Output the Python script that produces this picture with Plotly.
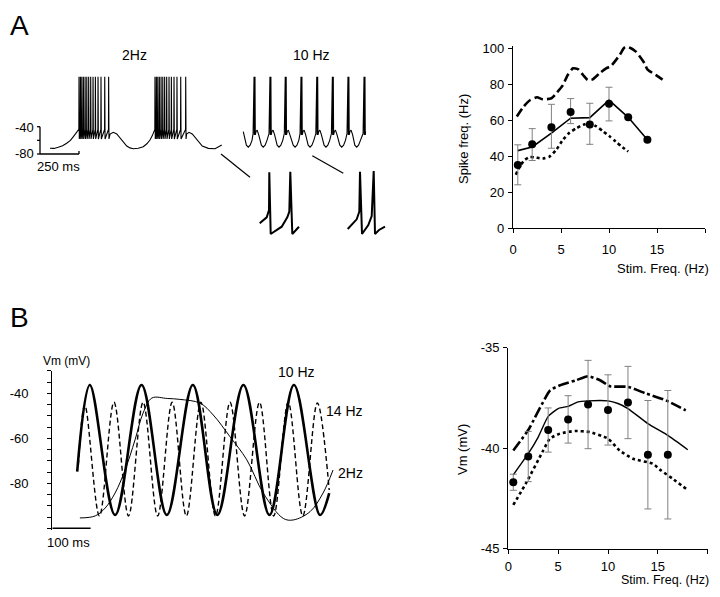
import plotly.graph_objects as go

FONT = "Liberation Sans, Arial, Helvetica, sans-serif"
# the page body keeps its default 8px margin; the figure fills the rest of the 720x597 window
OFF = 8
FIG_W, FIG_H = 720 - 2 * OFF, 597 - 2 * OFF

# ---------------- Panel A right: spike frequency vs stimulation frequency ----------------
stim_a = [0.5, 2, 4, 6, 8, 10, 12, 14]
spike_mean = [35, 46.5, 56, 64.5, 57.5, 69, 61.5, 49]
spike_err_hi = [11.2, 8.7, 12.7, 7.4, 11.8, 9.2, 0, 0]
spike_err_lo = [11.0, 9.0, 11.7, 6.5, 11.0, 9.5, 0, 0]
model_spike = [43, 45, 52.7, 61, 61.3, 71, 61.5, 49]
upper_spike_x = [0.4, 1.1, 1.8, 2.5, 3.1, 4.0, 4.5, 5.2, 5.7, 6.25, 6.8, 7.3, 7.8, 8.3, 9.0,
                 9.7, 10.2, 11.1, 11.6, 12.0, 12.8, 13.7, 14.0, 14.9, 15.9]
upper_spike_y = [61.9, 67.4, 71.1, 72.6, 71.5, 72.1, 74.8, 79.4, 85, 88.7, 88.1, 85, 82.2, 82.6, 85.9,
                 88.7, 90, 96, 100.2, 100.6, 98, 91.5, 88.1, 84.9, 81.3]
lower_spike_x = [0.3, 0.7, 1.25, 1.75, 2.3, 3.1, 3.8, 4.5, 5.2, 5.9, 6.6, 7.3, 8.0, 8.7, 9.4,
                 10.0, 10.7, 11.4, 12.0]
lower_spike_y = [29.6, 34.2, 37.9, 39.4, 39.2, 38.6, 39.7, 43.4, 49, 53, 55.4, 57.3, 58.2, 56.4, 53.6,
                 51.2, 48, 44.9, 42.5]

# ---------------- Panel B right: membrane potential vs stimulation frequency ----------------
stim_b = [0.5, 2, 4, 6, 8, 10, 12, 14, 16]
vm_mean = [-41.7, -40.42, -39.1, -38.57, -37.83, -38.1, -37.73, -40.33, -40.33]
vm_err = [0.4, 1.25, 1.1, 1.18, 2.2, 1.75, 1.8, 2.7, 3.2]
model_vm_x = [0.5, 2, 3, 4, 5, 6, 7, 8, 10, 11, 12, 14, 16, 18]
model_vm_y = [-41.33, -40.28, -39.45, -38.42, -38.03, -37.92, -37.7, -37.65, -37.65, -37.78,
              -38.03, -38.78, -39.37, -40.08]
upper_vm_x = [0.5, 2, 4.2, 5.2, 6.8, 8, 9.2, 10.2, 12, 13.8, 15.8, 17.8]
upper_vm_y = [-40.12, -39.1, -37.12, -36.87, -36.62, -36.42, -36.62, -36.92, -36.95, -37.28,
              -37.62, -38.12]
lower_vm_x = [0.5, 1.83, 3.5, 4.17, 5.17, 6.67, 8.17, 10, 11.17, 12.5, 14.5, 15.33, 16.5, 17.83]
lower_vm_y = [-42.83, -41.7, -40.12, -39.53, -39.28, -39.15, -39.2, -39.53, -40.12, -40.53,
              -40.78, -41.12, -41.53, -42.03]

# ---------------- Panel A left: voltage traces (ms, mV) ----------------
a2_pre_t = [64, 90, 117, 145, 171, 195, 214, 230, 242]
a2_pre_v = [-71.6, -71.8, -70.2, -68.0, -64.3, -60.0, -54.6, -49.5, -44.7]
a2_burst1 = [250, 259, 268, 278, 289, 300, 312, 325, 340, 355, 372, 391, 415, 440]
a2_mid_t = [449, 470, 492, 524, 556, 577, 598, 630, 662, 685, 705, 720, 731]
a2_mid_v = [-50.7, -48.2, -50.7, -59.5, -68.3, -71.0, -72.2, -71.5, -69.3, -65.0, -59.5, -53.0, -47.3]
a2_burst2 = [737, 746, 755, 765, 776, 787, 799, 812, 827, 842, 859, 878, 902, 934]
a2_post_t = [940, 955, 976, 1008, 1040, 1079, 1122, 1165]
a2_post_v = [-50.7, -48.2, -50.7, -59.5, -68.3, -71.7, -72.2, -66.8]
SPIKE_PEAK, SPIKE_TROUGH, SPIKE_THRESH = 33, -58, -44

a10_start = (1303, -47.3)
a10_troughs = [1335, 1431, 1532, 1635, 1731, 1833, 1934, 2030]
a10_spikes = [1372, 1474, 1572, 1673, 1774, 1874, 1974, 2077]
A10_TROUGH_V, A10_HUMP_V = -70, -45

# magnified insets (expanded time base)
inset1_t = [4.85, 8.35, 9.5, 9.65, 10.35, 15.85, 18.65, 19.65, 20.15, 21.15, 24.5]
inset1_v = [-48.4, -38.9, -27.3, 32.5, -65.4, -53.8, -38.9, -30, 33.5, -65.4, -53.8]
inset2_t = [48.85, 53.35, 54.65, 55, 56, 59.15, 60.85, 61.85, 62.5, 64.5, 67.5]
inset2_v = [-57.5, -42.1, -30, 33.5, -65.4, -51.1, -36.8, 34.6, -65.4, -59, -53.8]

# ---------------- Panel B left: subthreshold oscillations (ms, mV) ----------------
b10_t = [65, 98, 164, 233, 299, 367, 431, 499, 567, 631, 699, 723]
b10_v = [-74.8, -36.3, -94.1, -36.3, -94.1, -36.3, -94.1, -36.3, -94.1, -36.3, -94.1, -84.4]
b14_t = [68, 85, 123, 161, 199, 237, 275, 313, 350, 388, 426, 464, 502, 541, 578, 616, 654, 692, 723]
b14_v = [-71.9, -45.2, -94.5, -44, -94.5, -44, -94.5, -44, -94.5, -44, -94.5, -44, -94.5, -44,
         -94.5, -44, -94.5, -44.3, -83]
b2_t = [72, 112, 138, 164, 190, 216, 237, 260, 300, 333, 386, 420, 464, 508, 551, 603, 629, 673, 707, 733]
b2_v = [-95.4, -94.5, -91, -84.3, -74.1, -60.7, -48.8, -42.1, -42.3, -42.7, -44.4, -49.6, -59.3,
        -69.6, -84.4, -95.6, -96.3, -92.6, -84.3, -74.1]

# scale bars
scale_a_mv = [-80, -40]
scale_a_ms = 250
scale_b_ms = 100


def spikes(times):
    t, v = [], []
    for s in times:
        t += [s - 1, s, s + 2]
        v += [SPIKE_THRESH, SPIKE_PEAK, SPIKE_TROUGH]
    return t, v


b1t, b1v = spikes(a2_burst1)
b2t_, b2v_ = spikes(a2_burst2)
a2_t = a2_pre_t + b1t + a2_mid_t + b2t_ + a2_post_t
a2_v = a2_pre_v + b1v + a2_mid_v + b2v_ + a2_post_v

a10_t, a10_v = [a10_start[0]], [a10_start[1]]
for i, (tr, s) in enumerate(zip(a10_troughs, a10_spikes)):
    a10_t += [tr - 12, tr, tr + 12, tr + 24, s - 6]
    a10_v += [-67, A10_TROUGH_V, -67, -60, -50]
    a10_t += [s, s + 2, s + 5, s + 6, s + 8]
    a10_v += [SPIKE_PEAK, -52, -46, SPIKE_PEAK, -52]
    if i < len(a10_spikes) - 1:
        a10_t += [s + 13, s + 20, s + 30]
        a10_v += [-47, A10_HUMP_V, -52]
    else:
        a10_t += [s + 10]
        a10_v += [-47]

fig = go.Figure()

# ----- A right
fig.add_trace(go.Scatter(x=upper_spike_x, y=upper_spike_y, mode="lines", xaxis="x", yaxis="y",
                         line=dict(color="black", width=2.6, dash="9px,4px", shape="spline", smoothing=0.6)))
fig.add_trace(go.Scatter(x=lower_spike_x, y=lower_spike_y, mode="lines", xaxis="x", yaxis="y",
                         line=dict(color="black", width=2.6, dash="3px,3px", shape="spline", smoothing=0.6)))
fig.add_trace(go.Scatter(x=stim_a, y=model_spike, mode="lines", xaxis="x", yaxis="y",
                         line=dict(color="black", width=1.6)))
fig.add_trace(go.Scatter(x=stim_a, y=spike_mean, mode="markers", xaxis="x", yaxis="y",
                         marker=dict(color="black", size=8),
                         error_y=dict(type="data", symmetric=False, array=spike_err_hi,
                                      arrayminus=spike_err_lo, color="#808080", thickness=1, width=3.5)))

# ----- B right
fig.add_trace(go.Scatter(x=upper_vm_x, y=upper_vm_y, mode="lines", xaxis="x2", yaxis="y2",
                         line=dict(color="black", width=2.6, dash="11px,3px,3px,3px", shape="spline", smoothing=0.5)))
fig.add_trace(go.Scatter(x=lower_vm_x, y=lower_vm_y, mode="lines", xaxis="x2", yaxis="y2",
                         line=dict(color="black", width=2.6, dash="3px,3px", shape="spline", smoothing=0.5)))
fig.add_trace(go.Scatter(x=model_vm_x, y=model_vm_y, mode="lines", xaxis="x2", yaxis="y2",
                         line=dict(color="black", width=1.4, shape="spline", smoothing=0.5)))
fig.add_trace(go.Scatter(x=stim_b, y=vm_mean, mode="markers", xaxis="x2", yaxis="y2",
                         marker=dict(color="black", size=8),
                         error_y=dict(type="data", array=vm_err, color="#808080", thickness=1, width=3.5)))

# ----- A left traces
fig.add_trace(go.Scatter(x=a2_t, y=a2_v, mode="lines", xaxis="x3", yaxis="y3",
                         line=dict(color="black", width=1.1)))
fig.add_trace(go.Scatter(x=a10_t, y=a10_v, mode="lines", xaxis="x3", yaxis="y3",
                         line=dict(color="black", width=1.1)))
# scale bar A
mid_mv = (scale_a_mv[0] + scale_a_mv[1]) / 2
sb_x = [0, 0, None, -19, 0, None, -19, 0, None, -19, 0, None, 0, scale_a_ms, None, scale_a_ms, scale_a_ms]
sb_y = [scale_a_mv[0], scale_a_mv[1], None, scale_a_mv[1], scale_a_mv[1], None, mid_mv, mid_mv, None,
        scale_a_mv[0], scale_a_mv[0], None, scale_a_mv[0], scale_a_mv[0], None, scale_a_mv[0], scale_a_mv[0] + 4.5]
fig.add_trace(go.Scatter(x=sb_x, y=sb_y, mode="lines", xaxis="x3", yaxis="y3",
                         line=dict(color="black", width=1.3)))

# ----- insets
fig.add_trace(go.Scatter(x=inset1_t, y=inset1_v, mode="lines", xaxis="x4", yaxis="y4",
                         line=dict(color="black", width=2)))
fig.add_trace(go.Scatter(x=inset2_t, y=inset2_v, mode="lines", xaxis="x4", yaxis="y4",
                         line=dict(color="black", width=2)))

# ----- B left
fig.add_trace(go.Scatter(x=b2_t, y=b2_v, mode="lines", xaxis="x5", yaxis="y5",
                         line=dict(color="black", width=1, shape="spline", smoothing=1)))
fig.add_trace(go.Scatter(x=b14_t, y=b14_v, mode="lines", xaxis="x5", yaxis="y5",
                         line=dict(color="black", width=1.4, dash="5px,3px", shape="spline", smoothing=1)))
fig.add_trace(go.Scatter(x=b10_t, y=b10_v, mode="lines", xaxis="x5", yaxis="y5",
                         line=dict(color="black", width=2.6, shape="spline", smoothing=1)))
fig.add_trace(go.Scatter(x=[0, scale_b_ms], y=[-100, -100], mode="lines", xaxis="x5", yaxis="y5",
                         line=dict(color="black", width=1.5)))


def px(x):
    return (x - OFF) / FIG_W


def py(y):
    return 1 - (y - OFF) / FIG_H


axis_common = dict(showgrid=False, zeroline=False, showline=True, linecolor="black", linewidth=1.3,
                   ticks="outside", ticklen=4, tickwidth=1.2, tickcolor="black", automargin=False,
                   tickfont=dict(family=FONT, size=13, color="black"))
hidden = dict(visible=False, automargin=False)

layout = dict(
    width=FIG_W, height=FIG_H, margin=dict(l=0, r=0, t=0, b=0, autoexpand=False),
    paper_bgcolor="white", plot_bgcolor="white", showlegend=False,
    font=dict(family=FONT, size=13, color="black"),
    xaxis=dict(domain=[px(513), px(705)], range=[0, 20], anchor="y", tickvals=[0, 5, 10, 15, 20],
               ticklabelstandoff=5, **axis_common),
    yaxis=dict(domain=[py(228), py(46.2)], range=[0, 101], anchor="x",
               tickvals=[0, 20, 40, 60, 80, 100], ticklabelstandoff=1, **axis_common),
    xaxis2=dict(domain=[px(508.3), px(707.7)], range=[0, 20], anchor="y2", tickvals=[0, 5, 10, 15, 20],
                ticklabelstandoff=2, **axis_common),
    yaxis2=dict(domain=[py(548.5), py(347.7)], range=[-45, -35], anchor="x2",
                tickvals=[-45, -40, -35], ticktext=["-45", "-40", "-35"], ticklabelstandoff=1, **axis_common),
    xaxis3=dict(domain=[0, px(400)], range=[(OFF - 40) * 6.41, (400 - 40) * 6.41], anchor="y3", **hidden),
    yaxis3=dict(domain=[py(170), py(60)], range=[-103.4, 57.7], anchor="x3", **hidden),
    xaxis4=dict(domain=[px(250), px(390)], range=[0, 70], anchor="y4", **hidden),
    yaxis4=dict(domain=[py(240), py(165)], range=[-74.9, 44.1], anchor="x4", **hidden),
    xaxis5=dict(domain=[px(52.3), px(400)], range=[0, (400 - 52.3) * 2.611], anchor="y5", **hidden),
    yaxis5=dict(domain=[py(530.1), py(370.8)], range=[-100.8, -30], anchor="x5",
                tickvals=[-80, -60, -40], ticktext=["-80", "-60", "-40"], ticklabelstandoff=16,
                minor=dict(dtick=5, tick0=-100, ticks="outside", ticklen=4, tickcolor="black", tickwidth=1),
                **axis_common),
)
fig.update_layout(**layout)

ann = []


def lab(text, x, y, size=13, xanchor="center", angle=0, yanchor="middle"):
    ann.append(dict(text=text, x=px(x), y=py(y), xref="paper", yref="paper", showarrow=False,
                    xanchor=xanchor, yanchor=yanchor, textangle=angle,
                    font=dict(family=FONT, size=size, color="black")))


lab("A", OFF, OFF, size=28, xanchor="left", yanchor="top")
lab("B", OFF, 317, size=28, xanchor="left")
lab("2Hz", 134, 55, size=14)
lab("10 Hz", 311, 55, size=14)
lab("-40", 36, 127, xanchor="right")
lab("-80", 36, 154, xanchor="right")
lab("250 ms", 35, 167, xanchor="left")
lab("Vm (mV)", 66, 361, size=12)
lab("100 ms", 45, 542, xanchor="left")
lab("10 Hz", 296, 372, size=14)
lab("14 Hz", 344, 411, size=14)
lab("2Hz", 350, 473, size=14)
lab("Spike freq. (Hz)", 463, 139, angle=-90)
lab("Stim. Freq. (Hz)", 711, 268, xanchor="right")
lab("Vm (mV)", 462, 450, angle=-90)
lab("Stim. Freq. (Hz)", 711, 589, size=12.5, xanchor="right", yanchor="bottom")

shapes = [
    dict(type="line", xref="paper", yref="paper", x0=px(221), y0=py(154), x1=px(250), y1=py(177.3),
         line=dict(color="black", width=1.2)),
    dict(type="line", xref="paper", yref="paper", x0=px(312.3), y0=py(155.7), x1=px(343.3), y1=py(173.3),
         line=dict(color="black", width=1.2)),
]
fig.update_layout(annotations=ann, shapes=shapes)

fig.write_html("out.html")
